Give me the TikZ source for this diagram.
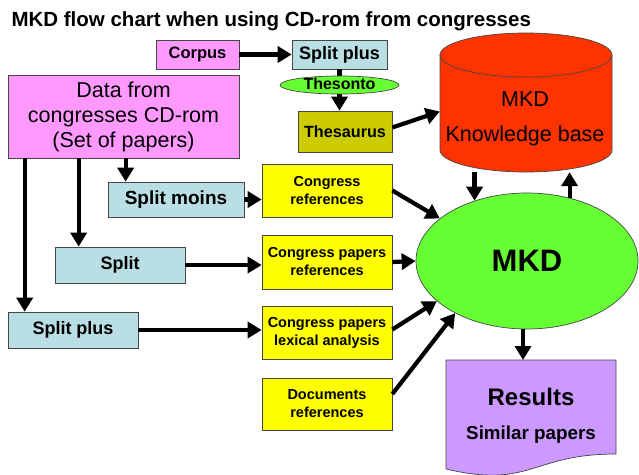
\documentclass[tikz,border=0pt]{standalone}
\usepackage{fontspec}
\setmainfont{Liberation Sans}
\usetikzlibrary{arrows.meta,shapes.geometric}

\definecolor{boxline}{RGB}{70,70,70}
\definecolor{pinkbox}{RGB}{255,153,255}
\definecolor{bluebox}{RGB}{185,222,228}
\definecolor{olivebox}{RGB}{204,204,0}
\definecolor{yellowbox}{RGB}{255,255,0}
\definecolor{greenmkd}{RGB}{102,255,51}
\definecolor{redkb}{RGB}{255,51,0}
\definecolor{purpleres}{RGB}{204,153,255}

\begin{document}
\begin{tikzpicture}[x=1pt, y=-1pt,
  box/.style={draw=boxline, line width=0.7pt, inner sep=0pt, align=center},
  pinkb/.style={box, fill=pinkbox},
  blueb/.style={box, fill=bluebox, font=\fontsize{18}{20}\selectfont\bfseries},
  yellowb/.style={box, fill=yellowbox, minimum width=130pt, font=\fontsize{14.5}{18}\selectfont\bfseries},
  arr/.style={line width=4.2pt, -{Triangle[length=14pt,width=16pt]}}]
\useasboundingbox (0,0) rectangle (639,474);

% title
\node[anchor=west, font=\fontsize{20.5}{24}\selectfont\bfseries] (title) at (8,21) {MKD flow chart when using CD-rom from congresses};

% sources
\node[pinkb, minimum width=83pt, minimum height=29pt, font=\fontsize{16.5}{20}\selectfont\bfseries] (corpus) at (197.5,54.5) {Corpus};
\node[blueb, minimum width=95pt, minimum height=29pt] (splitp) at (339.5,54.5) {Split plus};
\node[box, fill=olivebox, minimum width=94pt, minimum height=41pt, font=\fontsize{16.2}{20}\selectfont\bfseries] (thes) at (345,131.5) {Thesaurus};
\node[pinkb, minimum width=231pt, minimum height=83pt, font=\fontsize{21.5}{25}\selectfont] (data) at (123.5,116.5) {Data from\\congresses CD-rom\\(Set of papers)};

% knowledge base
\path[draw=boxline, line width=0.7pt, fill=redkb] (440,55) -- (440,150) arc[start angle=180, end angle=0, x radius=86, y radius=22] -- (612,55) -- cycle;
\draw[boxline, line width=0.7pt, fill=redkb] (526,55) ellipse [x radius=86, y radius=22];
\node[minimum width=172pt, minimum height=139pt, inner sep=0pt] (kb) at (526,102.5) {};
\node[font=\fontsize{21.5}{25}\selectfont] (kbname) at (525,99) {MKD};
\node[font=\fontsize{21.5}{25}\selectfont] (kbsub) at (525,136) {Knowledge base};

% splits
\node[blueb, minimum width=136pt, minimum height=35pt, font=\fontsize{19}{22}\selectfont\bfseries] (smoins) at (176,199.5) {Split moins};
\node[blueb, minimum width=130pt, minimum height=36pt] (split) at (120,265) {Split};
\node[blueb, minimum width=130pt, minimum height=36pt] (splitl) at (73,330) {Split plus};

% extracted data
\node[yellowb, minimum height=53pt] (cref) at (327,190.5) {Congress\\references};
\node[yellowb, minimum height=54pt] (cpref) at (327,262) {Congress papers\\references};
\node[yellowb, minimum height=53pt] (lex) at (327,332.5) {Congress papers\\lexical analysis};
\node[yellowb, minimum height=52pt] (docs) at (327,404) {Documents\\references};

% mkd
\node[box, ellipse, fill=greenmkd, minimum width=222pt, minimum height=136pt, font=\fontsize{31}{34}\selectfont\bfseries] (mkd) at (527,261) {MKD};

% results
\path[draw=boxline, line width=0.7pt, fill=purpleres] (446,360) -- (616,360) -- (616,454) .. controls (531,454) and (531,489) .. (446,469) -- cycle;
\coordinate (restop) at (531,360);
\node[font=\fontsize{24}{28}\selectfont\bfseries] (res) at (531,397) {Results};
\node[font=\fontsize{18.8}{22}\selectfont\bfseries] (sim) at (531,435) {Similar papers};

% arrows
\draw[arr] (corpus) -- (splitp);
\draw[arr] (splitp) -- (splitp |- thes.north);
\node[box, ellipse, fill=greenmkd, minimum width=119pt, minimum height=18pt, text height=9pt, text depth=0pt, font=\fontsize{16}{18}\selectfont\bfseries] (thesonto) at (339.5,85) {Thesonto};
\draw[arr] ([yshift=4pt]thes.east) -- ([yshift=-9pt]kb.west);
\draw[arr] ([xshift=18pt]smoins.north west |- data.south) -- ([xshift=18pt]smoins.north west);
\draw[arr] ([xshift=24pt]split.north west |- data.south) -- ([xshift=24pt]split.north west);
\draw[arr] ([xshift=17pt]splitl.north west |- data.south) -- ([xshift=17pt]splitl.north west);
\draw[arr] (smoins.east) -- (smoins.east -| cref.west);
\draw[arr] (split.east) -- (split.east -| cpref.west);
\draw[arr] (splitl.east) -- (splitl.east -| lex.west);
\draw[arr] (cref.east) -- (mkd.154);
\draw[arr] (cpref.east) -- (mkd.west);
\draw[arr] ([yshift=3pt]lex.east) -- (mkd.204);
\draw[arr] ([yshift=10pt]docs.east) -- (mkd.216);
\draw[arr] (kb.south -| mkd.131) -- (mkd.131);
\draw[arr] (mkd.56) -- (mkd.56 |- kb.south);
\draw[arr] ([xshift=-4pt]mkd.south) -- ([xshift=-4pt]mkd.south |- restop);
\end{tikzpicture}
\end{document}
